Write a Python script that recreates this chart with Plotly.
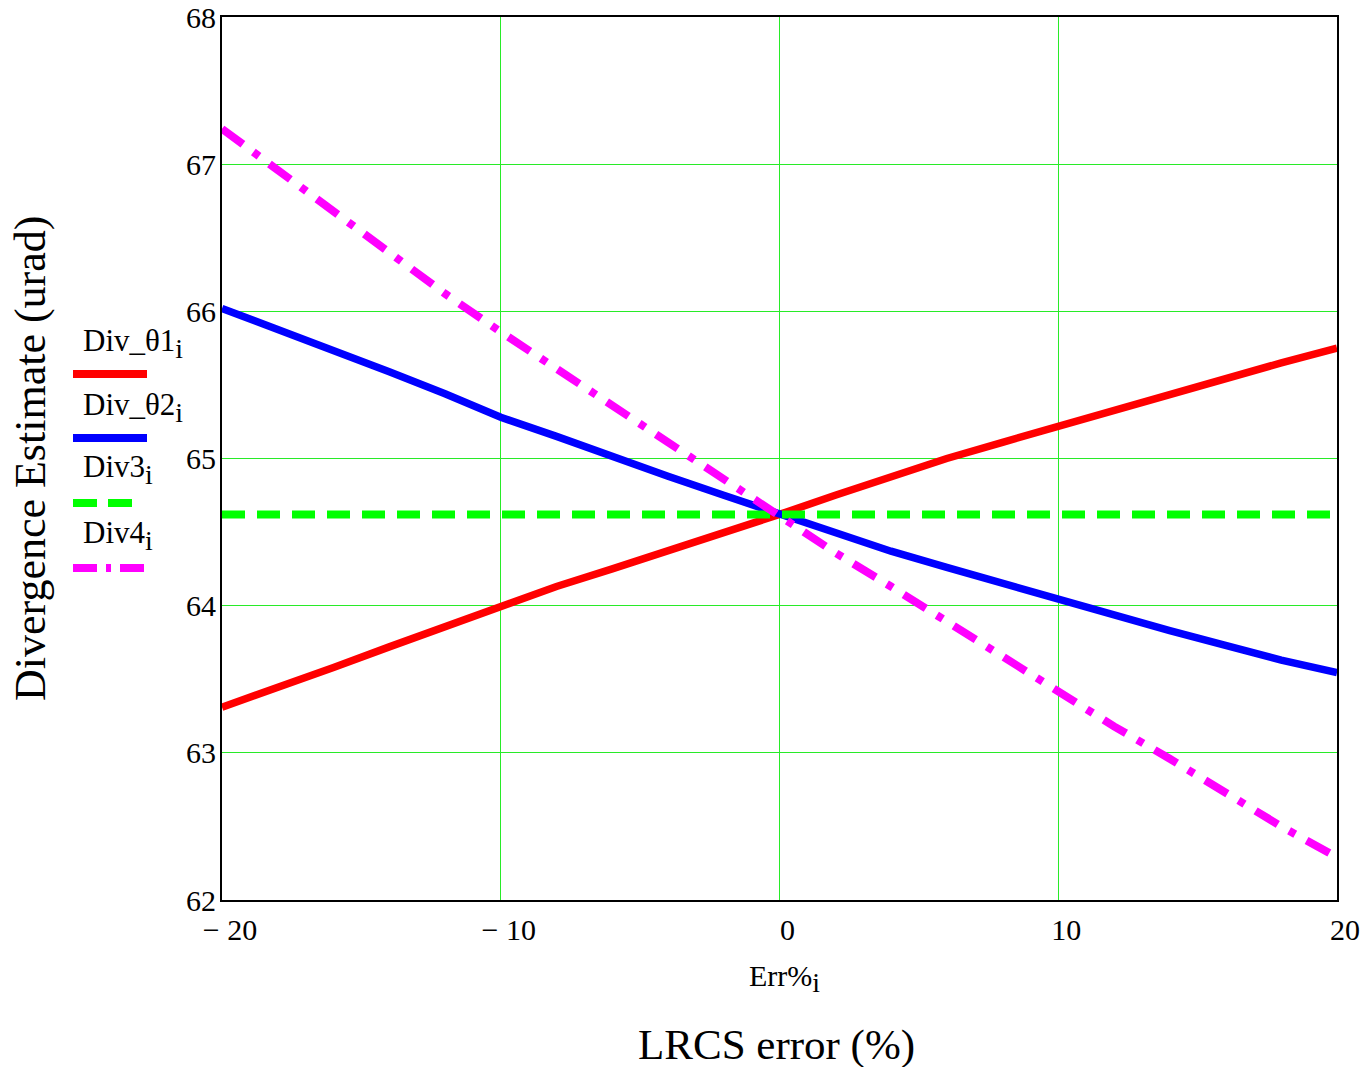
import plotly.graph_objects as go

# ---- data ----
err_pct = [-20, -18, -16, -14, -12, -10, -8, -6, -4, -2, 0, 2, 4, 6, 8, 10, 12, 14, 16, 18, 20]
div_theta1 = [63.31, 63.44, 63.58, 63.72, 63.86, 64.00, 64.13, 64.25, 64.37, 64.50, 64.62,
              64.75, 64.88, 65.00, 65.11, 65.22, 65.32, 65.43, 65.54, 65.65, 65.75]
div_theta2 = [66.02, 65.88, 65.74, 65.59, 65.44, 65.28, 65.15, 65.01, 64.88, 64.75, 64.62,
              64.49, 64.37, 64.26, 64.15, 64.05, 63.94, 63.83, 63.73, 63.63, 63.545]
div3 = [64.62] * len(err_pct)
div4 = [67.24, 66.96, 66.68, 66.40, 66.12, 65.86, 65.61, 65.37, 65.11, 64.87, 64.62,
        64.36, 64.13, 63.89, 63.66, 63.42, 63.18, 62.96, 62.73, 62.50, 62.29]

x_tickvals = [-20, -10, 0, 10, 20]
x_ticktext = ["\u2212 20", "\u2212 10", "0", "10", "20"]
y_tickvals = [62, 63, 64, 65, 66, 67, 68]

legend_names = ["Div_\u03b81", "Div_\u03b82", "Div3", "Div4"]

FONT = "Liberation Serif"
RED, BLUE, GREEN, MAGENTA = "#ff0000", "#0000ff", "#00ff00", "#ff00ff"
GRID = "rgb(40,235,40)"

fig = go.Figure()
fig.add_trace(go.Scatter(x=err_pct, y=div_theta1, mode="lines",
                         line=dict(color=RED, width=7.5), name=legend_names[0]))
fig.add_trace(go.Scatter(x=err_pct, y=div_theta2, mode="lines",
                         line=dict(color=BLUE, width=7.5), name=legend_names[1]))
fig.add_trace(go.Scatter(x=err_pct, y=div3, mode="lines",
                         line=dict(color=GREEN, width=8, dash="23px,12px"), name=legend_names[2]))
fig.add_trace(go.Scatter(x=err_pct, y=div4, mode="lines",
                         line=dict(color=MAGENTA, width=8, dash="26px,13px,7px,13px"),
                         name=legend_names[3]))

W, H = 1362, 1067
L, R, T, B = 222, 25, 17, 167
pw, ph = W - L - R, H - T - B


def px_x(p):
    return (p - L) / pw


def px_y(p):
    return (H - B - p) / ph


def sub_i(size):
    return f"<sub><span style='font-size:{size}px'>i</span></sub>"


annotations = []
shapes = []
# custom legend (text above line sample) in left margin
legend_rows = [
    (legend_names[0], 343, 374, RED, "solid", 147),
    (legend_names[1], 407, 438, BLUE, "solid", 147),
    (legend_names[2], 470, 503, GREEN, "24px,11px", 132),
    (legend_names[3], 535, 568, MAGENTA, "24px,9px,5px,9px", 145),
]
for name, ty, ly, col, dash, xend in legend_rows:
    annotations.append(dict(
        x=px_x(81), y=px_y(ty), xref="paper", yref="paper", xanchor="left", yanchor="middle",
        text=f"{name}{sub_i(28)}", showarrow=False, font=dict(family=FONT, size=31, color="black")))
    shapes.append(dict(
        type="line", xref="paper", yref="paper", x0=px_x(73), x1=px_x(xend), y0=px_y(ly), y1=px_y(ly),
        line=dict(color=col, width=8, dash=dash)))

annotations.append(dict(
    x=px_x(30), y=px_y(459), xref="paper", yref="paper", xanchor="center", yanchor="middle",
    text="Divergence Estimate (urad)", textangle=-90, showarrow=False,
    font=dict(family=FONT, size=44, color="black")))
annotations.append(dict(
    x=px_x(784), y=px_y(978), xref="paper", yref="paper", xanchor="center", yanchor="middle",
    text=f"Err%{sub_i(28)}", showarrow=False, font=dict(family=FONT, size=30, color="black")))
annotations.append(dict(
    x=px_x(776), y=px_y(1045), xref="paper", yref="paper", xanchor="center", yanchor="middle",
    text="LRCS error (%)", showarrow=False, font=dict(family=FONT, size=43, color="black")))

fig.update_layout(
    width=W, height=H,
    margin=dict(l=L, r=R, t=T, b=B, pad=0, autoexpand=False),
    paper_bgcolor="white", plot_bgcolor="white",
    showlegend=False,
    annotations=annotations, shapes=shapes,
    font=dict(family=FONT, color="black"),
)
fig.update_xaxes(
    range=[-20, 20], tickvals=x_tickvals, ticktext=x_ticktext,
    showgrid=True, gridcolor=GRID, gridwidth=1, zeroline=False,
    showline=True, linecolor="black", linewidth=2, mirror=True, automargin=False,
    ticks="", tickfont=dict(family=FONT, size=30, color="black"), ticklabelstandoff=2,
    ticklabelshift=8,
)
fig.update_yaxes(
    range=[62, 68], tickvals=y_tickvals,
    showgrid=True, gridcolor=GRID, gridwidth=1, zeroline=False,
    showline=True, linecolor="black", linewidth=2, mirror=True, automargin=False,
    ticks="", tickfont=dict(family=FONT, size=30, color="black"), ticklabelstandoff=-2,
)

fig.write_html("out.html")
